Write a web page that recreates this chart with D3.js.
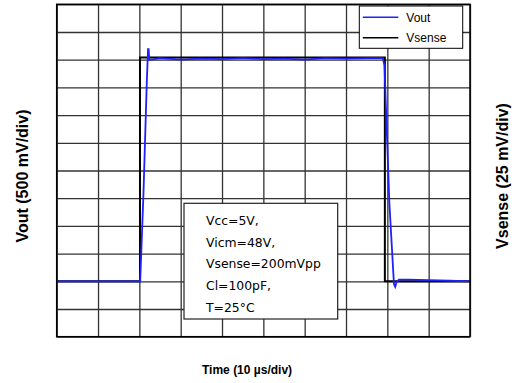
<!DOCTYPE html>
<html>
<head>
<meta charset="utf-8">
<script src="https://cdn.jsdelivr.net/npm/d3@7"></script>
<style>
  body { margin: 0; background: #fff; }
  svg { display: block; font-family: "Liberation Sans", Arial, sans-serif; }
</style>
</head>
<body>
<div class="scope"></div>
<script>
// time in µs (10 µs/div), Vout in V (500 mV/div), Vsense in mV (25 mV/div)
const voutTime  = [0, 10, 20, 20.2, 21.0, 21.8, 22.1, 22.25, 22.4, 23, 25, 30, 35, 40, 45, 50, 55, 60, 65, 70, 75, 78.9, 79.3, 80.5, 81.6, 81.9, 82.2, 82.8, 85, 90, 95, 100];
const voutVal   = [1.0, 1.0, 1.0, 1.0, 2.6, 4.6, 5.19, 5.19, 5.0, 5.0, 5.03, 5.0, 5.02, 5.01, 5.03, 5.01, 5.02, 5.0, 5.03, 5.02, 5.03, 5.03, 4.9, 2.4, 0.95, 0.9, 0.98, 1.03, 1.03, 1.02, 1.01, 1.0];

const senseTime = [0, 20.15, 20.15, 79.4, 79.4, 100];
const senseVal  = [50, 50, 252, 252, 50, 50];

const legendNames = ['Vout', 'Vsense'];
const legendColors = ['#1f1fff', '#000000'];
const noteLines = ['Vcc=5V,', 'Vicm=48V,', 'Vsense=200mVpp', 'Cl=100pF,', 'T=25°C'];

const svgW = 519, svgH = 383;
const margin = {top: 4.3, left: 56.7, right: 49, bottom: 46.3};
const w = svgW - margin.left - margin.right;
const h = svgH - margin.top - margin.bottom;

const svg = d3.select('.scope').append('svg')
    .attr('width', svgW).attr('height', svgH);
const g = svg.append('g').attr('transform', `translate(${margin.left},${margin.top})`);

const x = d3.scaleLinear().domain([0, 100]).range([0, w]);
const yV = d3.scaleLinear().domain([0, 6]).range([h, 0]);
const yS = d3.scaleLinear().domain([0, 300]).range([h, 0]);

// grid: 10 x 12 divisions
const xGrid = d3.axisBottom(x).tickValues(d3.range(0, 101, 10)).tickSize(-h).tickFormat('');
const yGrid = d3.axisLeft(yV).tickValues(d3.range(0, 6.01, 0.5)).tickSize(-w).tickFormat('');
g.append('g').attr('transform', `translate(0,${h})`).call(xGrid)
  .call(a => a.select('.domain').remove())
  .selectAll('line').attr('stroke', '#333').attr('stroke-width', 1.3);
g.append('g').call(yGrid)
  .call(a => a.select('.domain').remove())
  .selectAll('line').attr('stroke', '#333').attr('stroke-width', 1.3);

// note box
const nb = {x: 184 - margin.left, y: 203.3 - margin.top, w: 153.7, h: 115.7};
g.append('rect').attr('x', nb.x).attr('y', nb.y).attr('width', nb.w).attr('height', nb.h)
  .attr('fill', '#fff').attr('stroke', '#222').attr('stroke-width', 1.2);
g.append('g').selectAll('text').data(noteLines).enter().append('text')
  .attr('x', nb.x + 22)
  .attr('y', (d, i) => nb.y + 21.5 + i * 21.8)
  .style('font-family', '"DejaVu Sans", Verdana, sans-serif')
  .style('font-size', '12.4px')
  .attr('fill', '#000')
  .text(d => d);

// traces
const senseLine = d3.line().x((d, i) => x(senseTime[i])).y(d => yS(d));
const voutLine = d3.line().x((d, i) => x(voutTime[i])).y(d => yV(d));
g.append('path').datum(senseVal).attr('d', senseLine)
  .attr('fill', 'none').attr('stroke', '#000').attr('stroke-width', 2);
g.append('path').datum(voutVal).attr('d', voutLine)
  .attr('fill', 'none').attr('stroke', legendColors[0]).attr('stroke-width', 1.8);

// frame
g.append('rect').attr('width', w).attr('height', h)
  .attr('fill', 'none').attr('stroke', '#000').attr('stroke-width', 1.5);

// legend
const lg = svg.append('g').attr('transform', 'translate(359.3,6)');
lg.append('rect').attr('width', 103.4).attr('height', 42.3)
  .attr('fill', '#fff').attr('stroke', '#000').attr('stroke-width', 1);
legendNames.forEach((n, i) => {
  lg.append('line').attr('x1', 3.5).attr('x2', 39).attr('y1', 11.3 + i * 20.4).attr('y2', 11.3 + i * 20.4)
    .attr('stroke', legendColors[i]).attr('stroke-width', 1.5);
  lg.append('text').attr('x', 47).attr('y', 15.5 + i * 20.4)
    .style('font-size', '12px').text(n);
});

// axis titles
svg.append('text').attr('transform', 'translate(28,176) rotate(-90)')
  .attr('text-anchor', 'middle').style('font-weight', 'bold').style('font-size', '16px')
  .text('Vout (500 mV/div)');
svg.append('text').attr('transform', 'translate(508,176) rotate(-90)')
  .attr('text-anchor', 'middle').style('font-weight', 'bold').style('font-size', '16px')
  .text('Vsense (25 mV/div)');
svg.append('text').attr('x', 202).attr('y', 374)
  .style('font-weight', 'bold').style('font-size', '12px')
  .text('Time (10 µs/div)');
</script>
</body>
</html>
